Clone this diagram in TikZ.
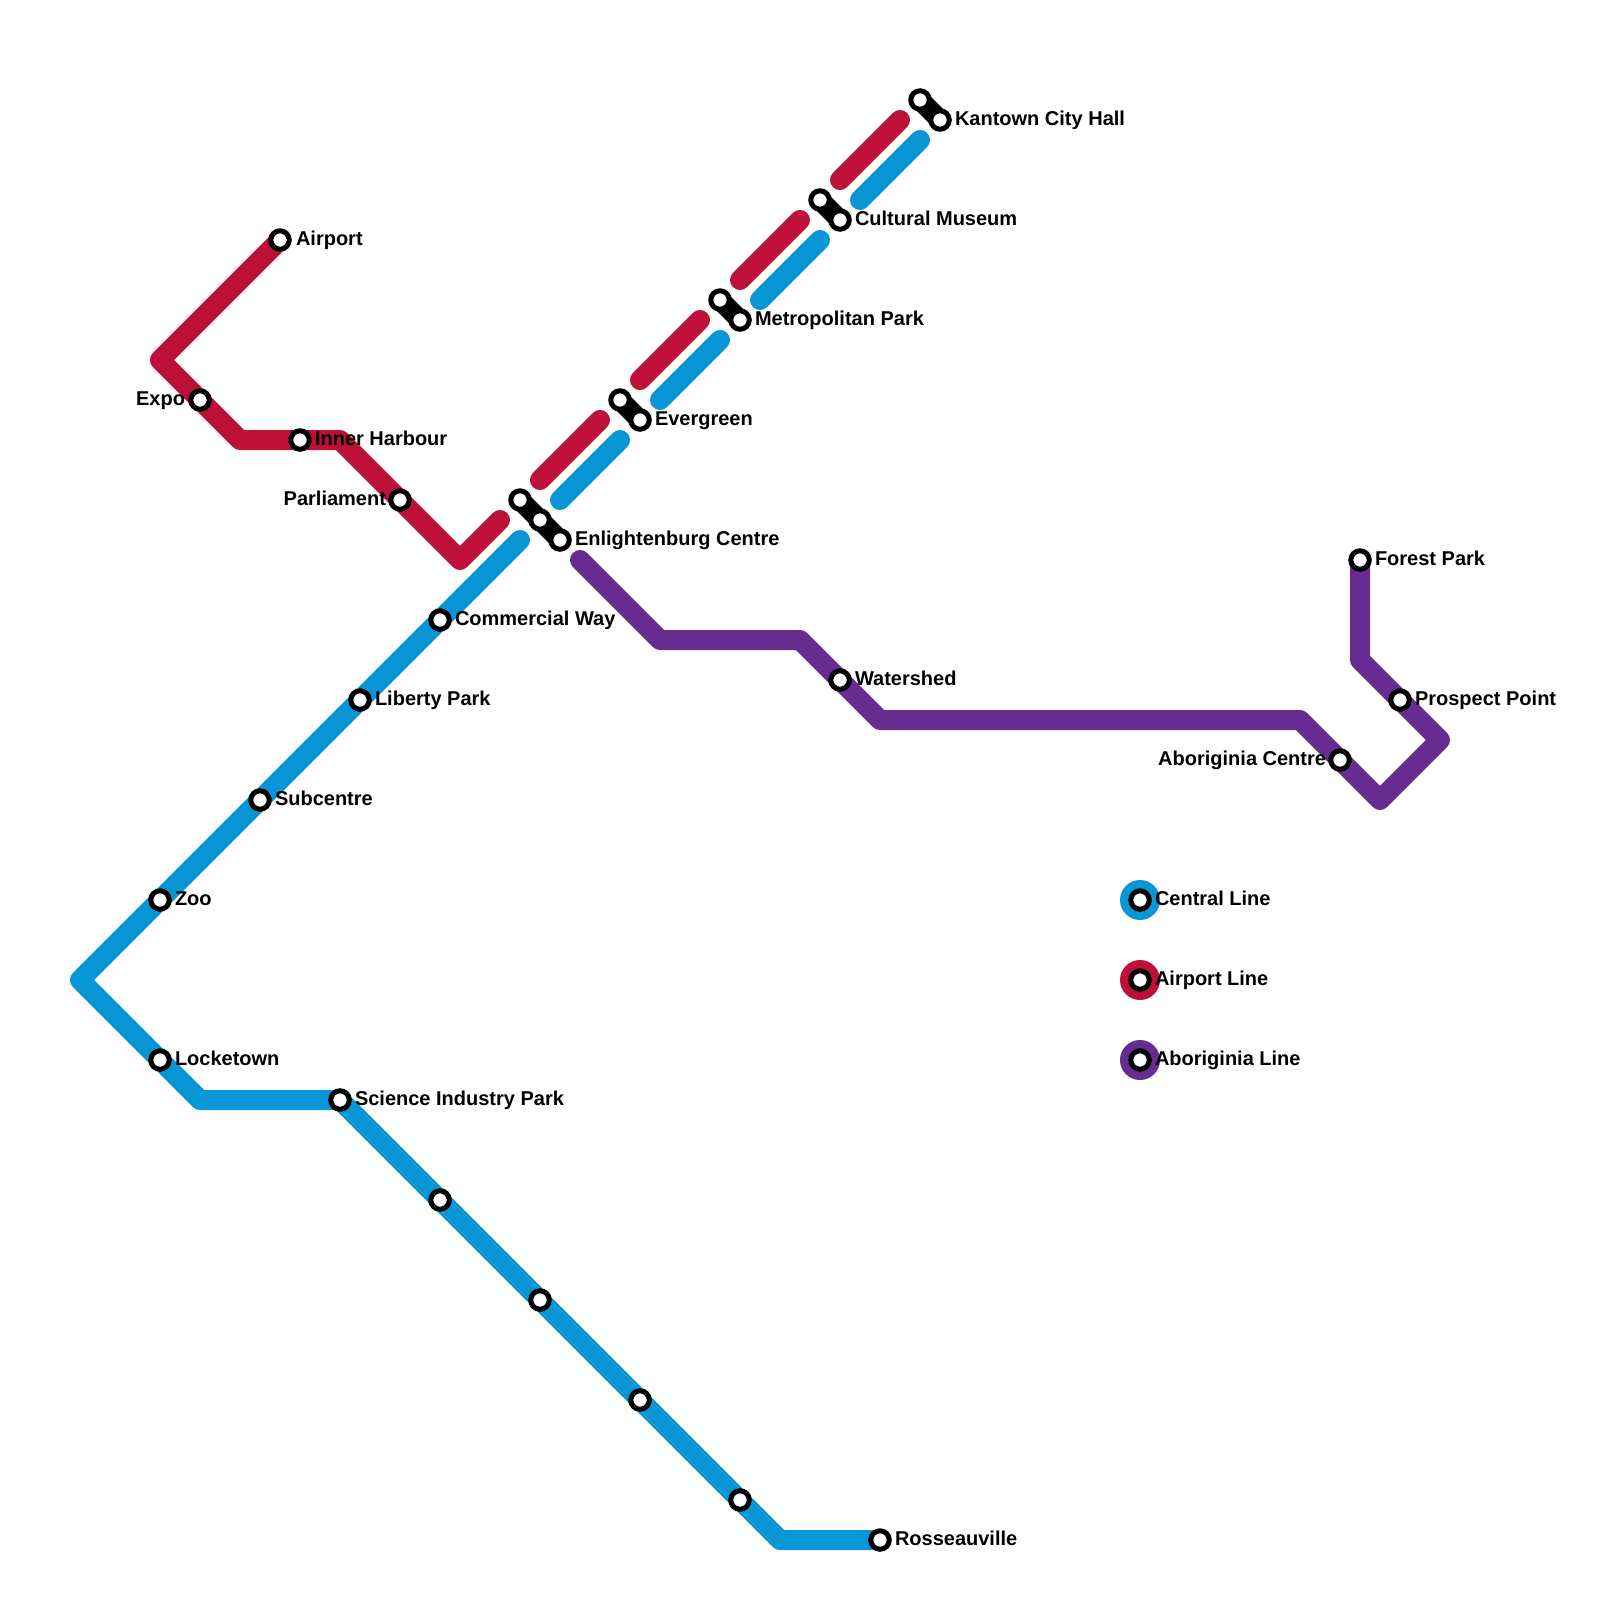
\documentclass[tikz,border=0pt]{standalone}
\usepackage{fontspec}
\setmainfont{Liberation Sans}
\usetikzlibrary{backgrounds}
\definecolor{central}{HTML}{0896D7}
\definecolor{airportline}{HTML}{BD1038}
\definecolor{aboriginia}{HTML}{662C90}
\tikzset{
  stn/.style={circle,draw=black,fill=white,line width=5pt,minimum size=18.5pt,inner sep=0pt,outer sep=0pt},
  lbl/.style={inner sep=0pt,outer sep=0pt,font=\fontsize{20}{22}\selectfont\bfseries,text=black},
  lblr/.style={lbl,anchor=base west},
  lbll/.style={lbl,anchor=base east},
  route/.style={line width=20pt,line cap=round,line join=round},
  link/.style={line width=20pt,draw=black,line cap=round},
  legdisc/.style={circle,minimum size=40pt,inner sep=0pt,outer sep=0pt}
}
\begin{document}
\begin{tikzpicture}[x=1pt,y=-1pt]
\useasboundingbox (0,0) rectangle (1600,1600);
% Airport line stations
\node[stn] (airport) at (280,240) {};
\node[stn] (expo) at (200,400) {};
\node[stn] (inner) at (300,440) {};
\node[stn] (parl) at (400,500) {};
% Central line stations
\node[stn] (commercial) at (440,620) {};
\node[stn] (liberty) at (360,700) {};
\node[stn] (subcentre) at (260,800) {};
\node[stn] (zoo) at (160,900) {};
\node[stn] (locke) at (160,1060) {};
\node[stn] (science) at (340,1100) {};
\node[stn] (u1) at (440,1200) {};
\node[stn] (u2) at (540,1300) {};
\node[stn] (u3) at (640,1400) {};
\node[stn] (u4) at (740,1500) {};
\node[stn] (rosseau) at (880,1540) {};
% Interchanges
\node[stn] (en1) at (520,500) {};
\node[stn] (en2) at (540,520) {};
\node[stn] (en3) at (560,540) {};
\node[stn] (ev1) at (620,400) {};
\node[stn] (ev2) at (640,420) {};
\node[stn] (me1) at (720,300) {};
\node[stn] (me2) at (740,320) {};
\node[stn] (cu1) at (820,200) {};
\node[stn] (cu2) at (840,220) {};
\node[stn] (ka1) at (920,100) {};
\node[stn] (ka2) at (940,120) {};
% Aboriginia line stations
\node[stn] (watershed) at (840,680) {};
\node[stn] (abcentre) at (1340,760) {};
\node[stn] (forest) at (1360,560) {};
\node[stn] (prospect) at (1400,700) {};
% Legend
\node[stn] (lg1) at (1140,900) {};
\node[stn] (lg2) at (1140,980) {};
\node[stn] (lg3) at (1140,1060) {};
% Bends and free ends
\coordinate (a1) at (160,360);
\coordinate (a2) at (240,440);
\coordinate (a3) at (340,440);
\coordinate (a4) at (460,560);
\coordinate (a5) at (500,520);
\coordinate (a6) at (540,480);
\coordinate (a7) at (600,420);
\coordinate (a8) at (640,380);
\coordinate (a9) at (700,320);
\coordinate (a10) at (740,280);
\coordinate (a11) at (800,220);
\coordinate (a12) at (840,180);
\coordinate (a13) at (900,120);
\coordinate (c1) at (520,540);
\coordinate (c2) at (80,980);
\coordinate (c3) at (200,1100);
\coordinate (c4) at (780,1540);
\coordinate (c5) at (560,500);
\coordinate (c6) at (620,440);
\coordinate (c7) at (660,400);
\coordinate (c8) at (720,340);
\coordinate (c9) at (760,300);
\coordinate (c10) at (820,240);
\coordinate (c11) at (860,200);
\coordinate (c12) at (920,140);
\coordinate (p1) at (580,560);
\coordinate (p2) at (660,640);
\coordinate (p3) at (800,640);
\coordinate (p4) at (880,720);
\coordinate (p5) at (1300,720);
\coordinate (p6) at (1380,800);
\coordinate (p7) at (1440,740);
\coordinate (p8) at (1360,660);
\begin{scope}[on background layer]
  \draw[route,draw=aboriginia] (p1) -- (p2) -- (p3) -- (p4) -- (p5) -- (p6) -- (p7) -- (p8) -- (forest.center);
  \draw[route,draw=airportline] (airport.center) -- (a1) -- (a2) -- (a3) -- (a4) -- (a5);
  \draw[route,draw=airportline] (a6) -- (a7);
  \draw[route,draw=airportline] (a8) -- (a9);
  \draw[route,draw=airportline] (a10) -- (a11);
  \draw[route,draw=airportline] (a12) -- (a13);
  \draw[route,draw=central] (c1) -- (c2) -- (c3) -- (science.center) -- (c4) -- (rosseau.center);
  \draw[route,draw=central] (c5) -- (c6);
  \draw[route,draw=central] (c7) -- (c8);
  \draw[route,draw=central] (c9) -- (c10);
  \draw[route,draw=central] (c11) -- (c12);
  \draw[link] (en1.center) -- (en3.center);
  \draw[link] (ev1.center) -- (ev2.center);
  \draw[link] (me1.center) -- (me2.center);
  \draw[link] (cu1.center) -- (cu2.center);
  \draw[link] (ka1.center) -- (ka2.center);
  \node[legdisc,fill=central] (d1) at (lg1) {};
  \node[legdisc,fill=airportline] (d2) at (lg2) {};
  \node[legdisc,fill=aboriginia] (d3) at (lg3) {};
\end{scope}
% Labels
\node[lblr] (t1) at (296,245) {Airport};
\node[lbll] (t2) at (185,405) {Expo};
\node[lblr] (t3) at (315,445) {Inner Harbour};
\node[lbll] (t4) at (386,505) {Parliament};
\node[lblr] (t5) at (455,625) {Commercial Way};
\node[lblr] (t6) at (375,705) {Liberty Park};
\node[lblr] (t7) at (275,805) {Subcentre};
\node[lblr] (t8) at (175,905) {Zoo};
\node[lblr] (t9) at (175,1065) {Locketown};
\node[lblr] (t10) at (355,1105) {Science Industry Park};
\node[lblr] (t11) at (895,1545) {Rosseauville};
\node[lblr] (t12) at (575,545) {Enlightenburg Centre};
\node[lblr] (t13) at (655,425) {Evergreen};
\node[lblr] (t14) at (755,325) {Metropolitan Park};
\node[lblr] (t15) at (855,225) {Cultural Museum};
\node[lblr] (t16) at (955,125) {Kantown City Hall};
\node[lblr] (t17) at (855,685) {Watershed};
\node[lbll] (t18) at (1326,765) {Aboriginia Centre};
\node[lblr] (t19) at (1375,565) {Forest Park};
\node[lblr] (t20) at (1415,705) {Prospect Point};
\node[lblr] (t21) at (1155,905) {Central Line};
\node[lblr] (t22) at (1155,985) {Airport Line};
\node[lblr] (t23) at (1155,1065) {Aboriginia Line};
\end{tikzpicture}
\end{document}
